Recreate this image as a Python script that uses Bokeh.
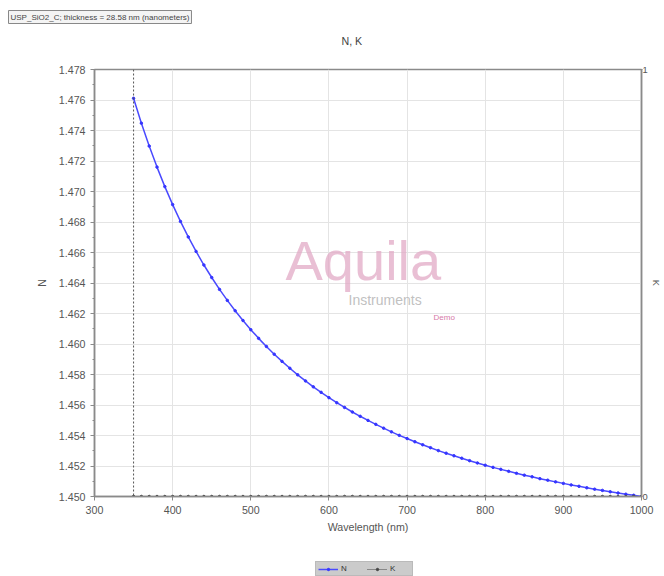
from bokeh.plotting import figure
from bokeh.layouts import column
from bokeh.models import (Range1d, LinearAxis, FixedTicker, Span, Label, Legend, LegendItem,
                          NumeralTickFormatter)
from bokeh.embed import file_html
from bokeh.resources import INLINE

wavelength = [350, 360, 370, 380, 390, 400, 410, 420, 430, 440, 450, 460, 470, 480, 490,
              500, 510, 520, 530, 540, 550, 560, 570, 580, 590, 600, 610, 620, 630, 640,
              650, 660, 670, 680, 690, 700, 710, 720, 730, 740, 750, 760, 770, 780, 790,
              800, 810, 820, 830, 840, 850, 860, 870, 880, 890, 900, 910, 920, 930, 940,
              950, 960, 970, 980, 990, 1000]
n_values = [1.47611, 1.47448, 1.47298, 1.47160, 1.47032, 1.46914, 1.46804, 1.46702, 1.46607,
            1.46518, 1.46436, 1.46358, 1.46286, 1.46218, 1.46154, 1.46094, 1.46037, 1.45984,
            1.45933, 1.45886, 1.45841, 1.45798, 1.45758, 1.45719, 1.45683, 1.45648, 1.45615,
            1.45584, 1.45554, 1.45526, 1.45499, 1.45473, 1.45448, 1.45424, 1.45401, 1.45380,
            1.45359, 1.45339, 1.45320, 1.45301, 1.45284, 1.45267, 1.45251, 1.45235, 1.45220,
            1.45205, 1.45191, 1.45178, 1.45165, 1.45152, 1.45140, 1.45129, 1.45117, 1.45107,
            1.45096, 1.45086, 1.45076, 1.45067, 1.45057, 1.45048, 1.45040, 1.45031, 1.45023,
            1.45015, 1.45008, 1.45000]
k_values = [0.0] * len(wavelength)

x_ticks = [300, 400, 500, 600, 700, 800, 900, 1000]
n_ticks = [1.450, 1.452, 1.454, 1.456, 1.458, 1.460, 1.462, 1.464, 1.466, 1.468, 1.470,
           1.472, 1.474, 1.476, 1.478]
k_ticks = [0, 1]

FONT = "Liberation Sans"
TXT = "#555555"
AX = "#8a8a8a"
N_COLOR = "#4a4aff"
K_COLOR = "#444444"

# ---- header strip: file label and title ----
hd = figure(width=664, height=50, output_backend="svg", toolbar_location=None,
            x_range=Range1d(0, 1), y_range=Range1d(0, 1), frame_align=False,
            min_border_left=0, min_border_right=0, min_border_top=0, min_border_bottom=0)
hd.axis.visible = False
hd.grid.visible = False
hd.outline_line_color = None
hd.add_layout(Label(x=8, y=27, x_units="screen", y_units="screen",
                    text="USP_SiO2_C; thickness = 28.58 nm (nanometers)",
                    text_font=FONT, text_font_size="6pt", text_color="#444444",
                    border_line_color="#888888", background_fill_color="#f4f4f4",
                    padding=2))
hd.add_layout(Label(x=341, y=4, x_units="screen", y_units="screen", text="N, K",
                    text_font=FONT, text_font_size="8pt", text_color="#444444"))

# ---- main chart ----
p = figure(width=664, height=506, output_backend="svg", toolbar_location=None,
           x_range=Range1d(300, 1000), y_range=Range1d(1.450, 1.478),
           min_border_left=94, min_border_right=23, min_border_top=19, min_border_bottom=60)
p.extra_y_ranges = {"k": Range1d(0, 1)}

p.outline_line_color = AX
p.outline_line_width = 1.5
p.background_fill_color = "white"
p.border_fill_color = "white"

for ax in (p.xaxis[0], p.yaxis[0]):
    ax.axis_line_color = AX
    ax.axis_line_width = 1.5
    ax.major_tick_line_color = AX
    ax.minor_tick_line_color = AX
    ax.major_label_text_color = TXT
    ax.major_label_text_font = FONT
    ax.major_label_text_font_size = "8pt"
    ax.axis_label_text_color = TXT
    ax.axis_label_text_font = FONT
    ax.axis_label_text_font_size = "8pt"
    ax.axis_label_text_font_style = "normal"
    ax.major_tick_out = 4
    ax.major_tick_in = 0
    ax.minor_tick_out = 2
    ax.minor_tick_in = 0

p.xaxis[0].ticker = FixedTicker(ticks=x_ticks)
p.xaxis[0].axis_label = "Wavelength (nm)"
p.xaxis[0].axis_label_standoff = 4
p.yaxis[0].ticker = FixedTicker(ticks=n_ticks, minor_ticks=[t + 0.001 for t in n_ticks[:-1]])
p.yaxis[0].formatter = NumeralTickFormatter(format="0.000")
p.yaxis[0].axis_label = "N"
p.yaxis[0].axis_label_standoff = 8

kax = LinearAxis(y_range_name="k", ticker=FixedTicker(ticks=k_ticks), axis_label="K")
kax.axis_line_color = AX
kax.axis_line_width = 1.5
kax.major_tick_line_color = AX
kax.major_tick_out = 1
kax.major_tick_in = 0
kax.minor_tick_line_color = None
kax.major_label_standoff = 0
kax.major_label_text_color = TXT
kax.major_label_text_font = FONT
kax.major_label_text_font_size = "7pt"
kax.axis_label_text_color = TXT
kax.axis_label_text_font = FONT
kax.axis_label_text_font_size = "7pt"
kax.axis_label_text_font_style = "normal"
kax.axis_label_standoff = 0
p.add_layout(kax, "right")

p.xgrid.ticker = FixedTicker(ticks=x_ticks)
p.ygrid.ticker = FixedTicker(ticks=n_ticks)
p.grid.grid_line_color = "#e4e4e4"
p.grid.grid_line_width = 1

# watermark (screen units are relative to the plot frame's bottom-left corner)
p.add_layout(Label(x=191, y=205, x_units="screen", y_units="screen", text="Aquila",
                   text_font=FONT, text_font_size="56px", text_color="#e2a9c6",
                   text_alpha=0.75))
p.add_layout(Label(x=254, y=189, x_units="screen", y_units="screen", text="Instruments",
                   text_font=FONT, text_font_size="14px", text_color="#b0b0b0",
                   text_alpha=0.8))
p.add_layout(Label(x=339, y=175, x_units="screen", y_units="screen", text="Demo",
                   text_font=FONT, text_font_size="8px", text_color="#d77aa8"))

span = Span(location=wavelength[0], dimension="height", line_color="#555555",
            line_dash="2 2", line_width=1)
p.add_layout(span)

p.line(wavelength, n_values, line_color=N_COLOR, line_width=1.5)
p.scatter(wavelength, n_values, size=2.5, color="#3535ff")
p.line(wavelength, k_values, y_range_name="k", line_color=K_COLOR, line_width=1,
       line_dash="1 1")
p.scatter(wavelength, k_values, y_range_name="k", size=2.5, color=K_COLOR)

# ---- legend strip below the chart (its glyphs sit outside this strip's ranges) ----
lg = figure(width=664, height=20, output_backend="svg", toolbar_location=None,
            x_range=Range1d(0, 1), y_range=Range1d(0, 1), frame_align=False,
            min_border_left=0, min_border_right=0, min_border_top=0, min_border_bottom=0)
lg.axis.visible = False
lg.grid.visible = False
lg.outline_line_color = None
ln = lg.line(wavelength, n_values, line_color=N_COLOR, line_width=1.5)
pn = lg.scatter(wavelength, n_values, size=2.5, color="#3535ff")
lk = lg.line(wavelength, k_values, line_color=K_COLOR, line_width=1, line_dash="1 1")
pk = lg.scatter(wavelength, k_values, size=2.5, color=K_COLOR)
legend = Legend(items=[LegendItem(label="N", renderers=[ln, pn]),
                       LegendItem(label="K", renderers=[lk, pk])],
                orientation="horizontal", location=(315, 0),
                label_text_font=FONT, label_text_font_size="6pt",
                label_text_color="#333333", glyph_width=20, glyph_height=6,
                label_height=6, label_standoff=3, spacing=6, padding=2, margin=0,
                background_fill_color="#c8c8c8", border_line_color="#aaaaaa")
lg.add_layout(legend)

layout = column(hd, p, lg, spacing=0)
open("out.html", "w").write(file_html(layout, INLINE))
